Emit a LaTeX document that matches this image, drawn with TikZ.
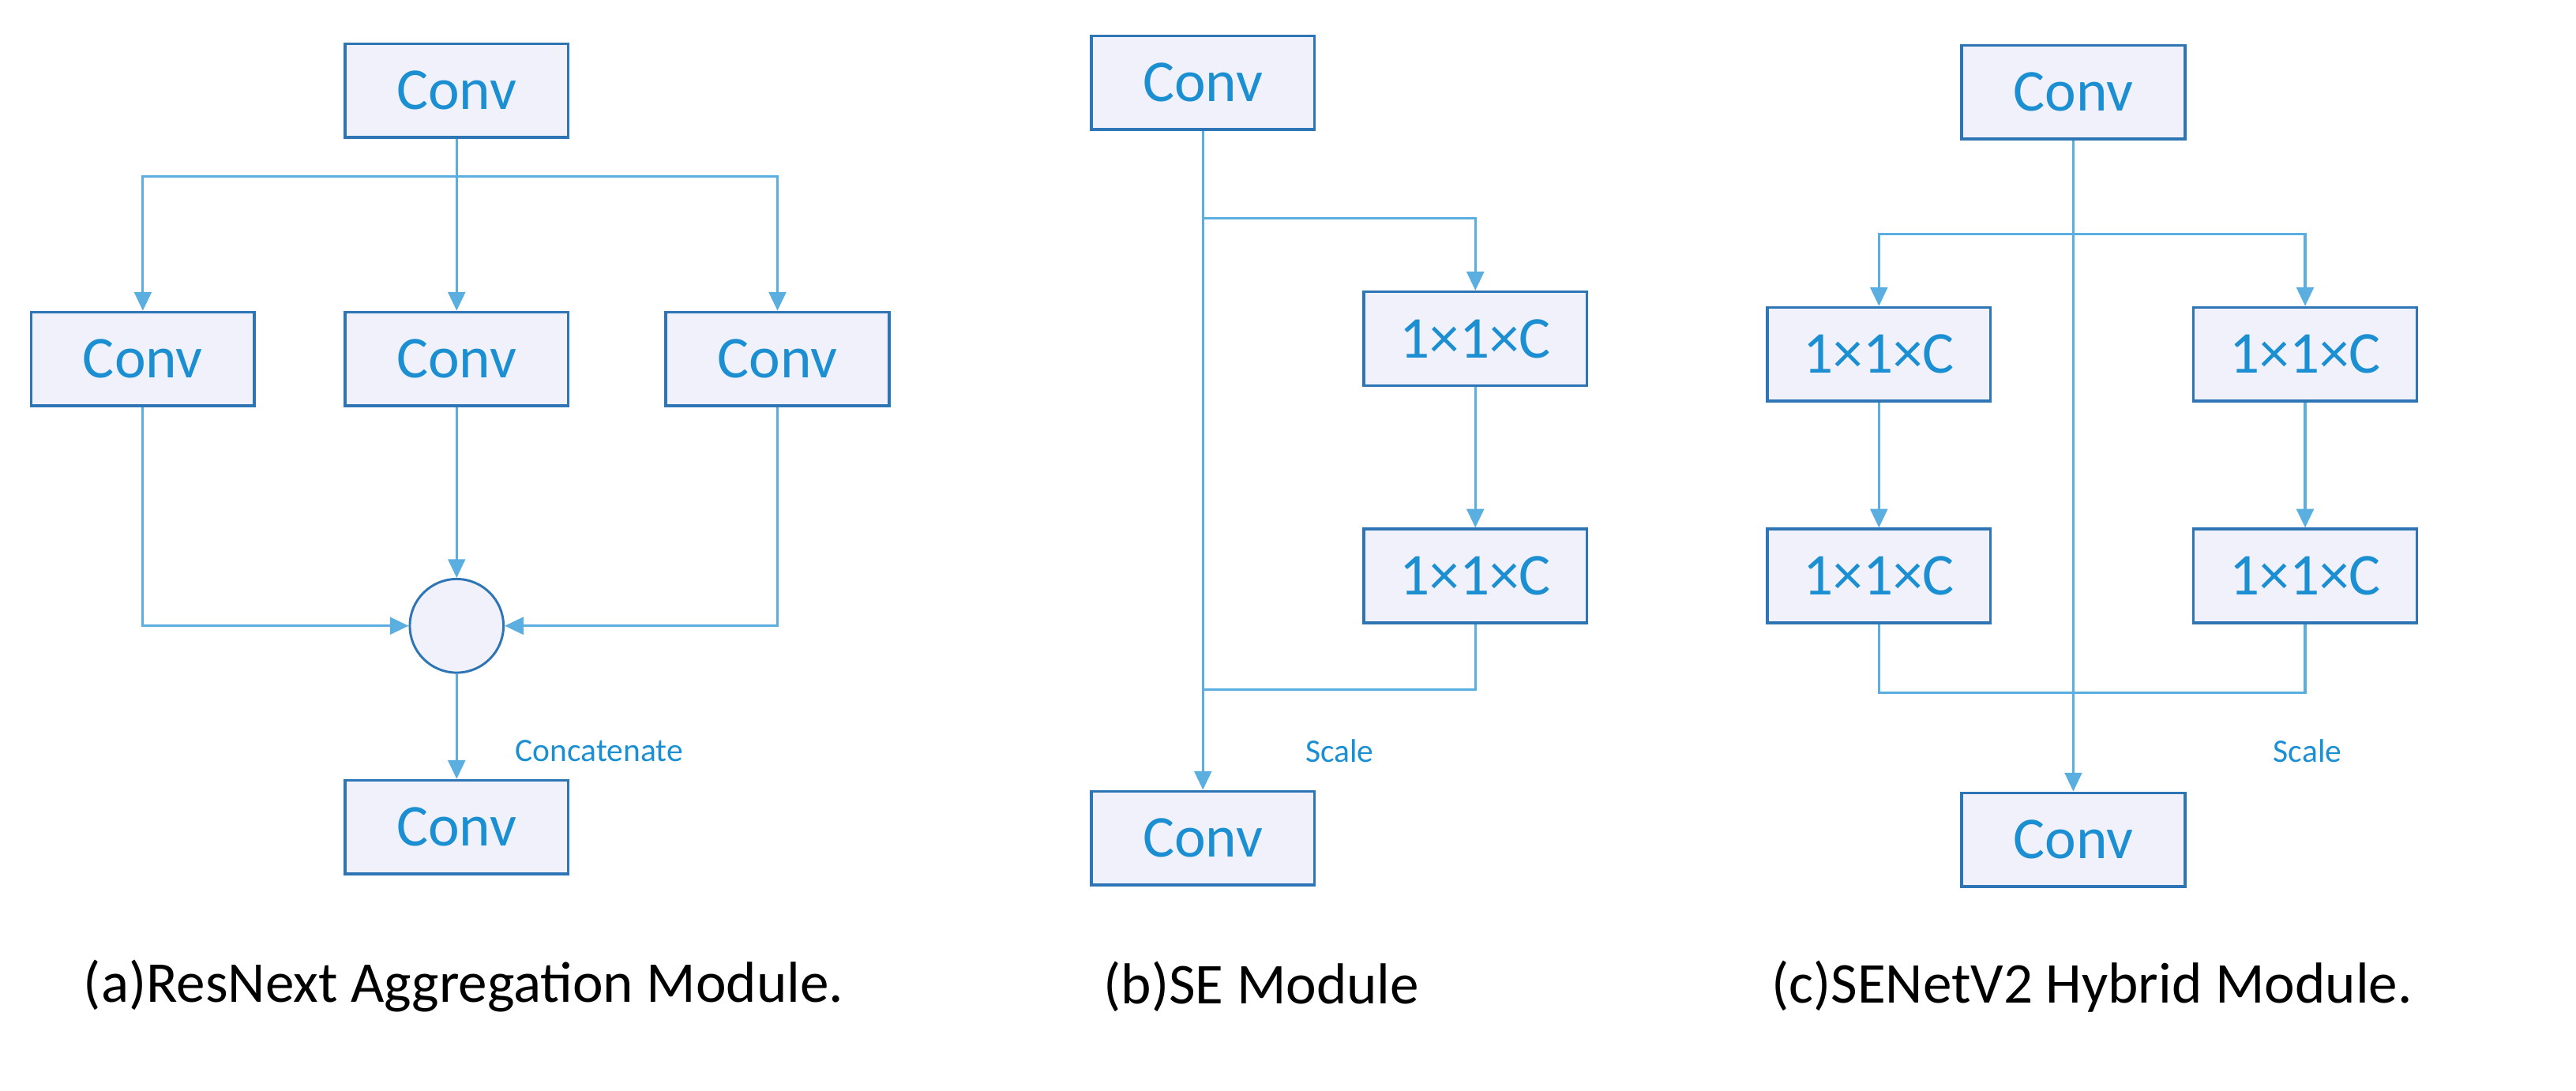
\documentclass[tikz,border=0pt]{standalone}
\usepackage{fontspec}
\setmainfont{Carlito}
\usetikzlibrary{arrows.meta}
\definecolor{bord}{HTML}{2E75B6}
\definecolor{ln}{HTML}{5AAEE0}
\definecolor{txt}{HTML}{1B8FD2}
\definecolor{fil}{HTML}{F0F1FA}
\begin{document}
\begin{tikzpicture}[x=1pt,y=-1pt,
  box/.style={draw=bord,line width=1.8pt,fill=fil,minimum width=143pt,minimum height=60pt,inner sep=0pt,text=txt,font=\fontsize{38}{44}\selectfont},
  lab/.style={text=txt,font=\fontsize{21}{25}\selectfont,inner sep=0pt},
  captxt/.style={text=black,font=\fontsize{37}{43}\selectfont,inner sep=0pt},
  ar/.style={draw=ln,line width=1.6pt,-{Triangle[length=12pt,width=11pt]}},
  ln/.style={draw=ln,line width=1.6pt}]
\useasboundingbox (0,0) rectangle (1650,699);
% (a)
\node[box] (at) at (292.5,58) {Conv};
\node[box] (al) at (91.5,230) {Conv};
\node[box] (am) at (292.5,230) {Conv};
\node[box] (ar) at (498,230) {Conv};
\node[draw=bord,line width=1.5pt,fill=fil,circle,minimum size=60pt,inner sep=0pt] (ac) at (292.5,401) {};
\node[box] (ab) at (292.5,530) {Conv};
\coordinate (aj) at (292.5,113);
\draw[ln] (at.south) -- (aj);
\draw[ar] (aj) -- (am.north);
\draw[ar] (aj) -| (al.north);
\draw[ar] (aj) -| (ar.north);
\draw[ar] (am.south) -- (ac.north);
\draw[ar] (al.south) |- (ac.west);
\draw[ar] (ar.south) |- (ac.east);
\draw[ar] (ac.south) -- (ab.north);
\node[lab,anchor=west] (alab) at (330,481) {Concatenate};
\node[captxt] (acap) at (297,632) {(a)ResNext Aggregation Module.};
% (b)
\node[box] (bt) at (770.5,53) {Conv};
\node[box] (b1) at (945,217) {1×1×C};
\node[box] (b2) at (945,369) {1×1×C};
\node[box] (bb) at (770.5,537) {Conv};
\coordinate (bj) at (770.5,140);
\coordinate (bk) at (770.5,442);
\draw[ar] (bt.south) -- (bb.north);
\draw[ar] (bj) -| (b1.north);
\draw[ar] (b1.south) -- (b2.north);
\draw[ln] (b2.south) |- (bk);
\node[lab,anchor=west] (blab) at (836,481) {Scale};
\node[captxt] (bcap) at (808,632) {(b)SE Module};
% (c)
\node[box] (ct) at (1328,59) {Conv};
\node[box] (cl1) at (1203.5,227) {1×1×C};
\node[box] (cr1) at (1476.5,227) {1×1×C};
\node[box] (cl2) at (1203.5,369) {1×1×C};
\node[box] (cr2) at (1476.5,369) {1×1×C};
\node[box] (cb) at (1328,538) {Conv};
\coordinate (cj) at (1328,150);
\coordinate (ck) at (1328,444);
\draw[ar] (ct.south) -- (cb.north);
\draw[ar] (cj) -| (cl1.north);
\draw[ar] (cj) -| (cr1.north);
\draw[ar] (cl1.south) -- (cl2.north);
\draw[ar] (cr1.south) -- (cr2.north);
\draw[ln] (cl2.south) |- (ck);
\draw[ln] (cr2.south) |- (ck);
\node[lab,anchor=west] (clab) at (1456,481) {Scale};
\node[captxt] (ccap) at (1340,632) {(c)SENetV2 Hybrid Module.};
\end{tikzpicture}
\end{document}
